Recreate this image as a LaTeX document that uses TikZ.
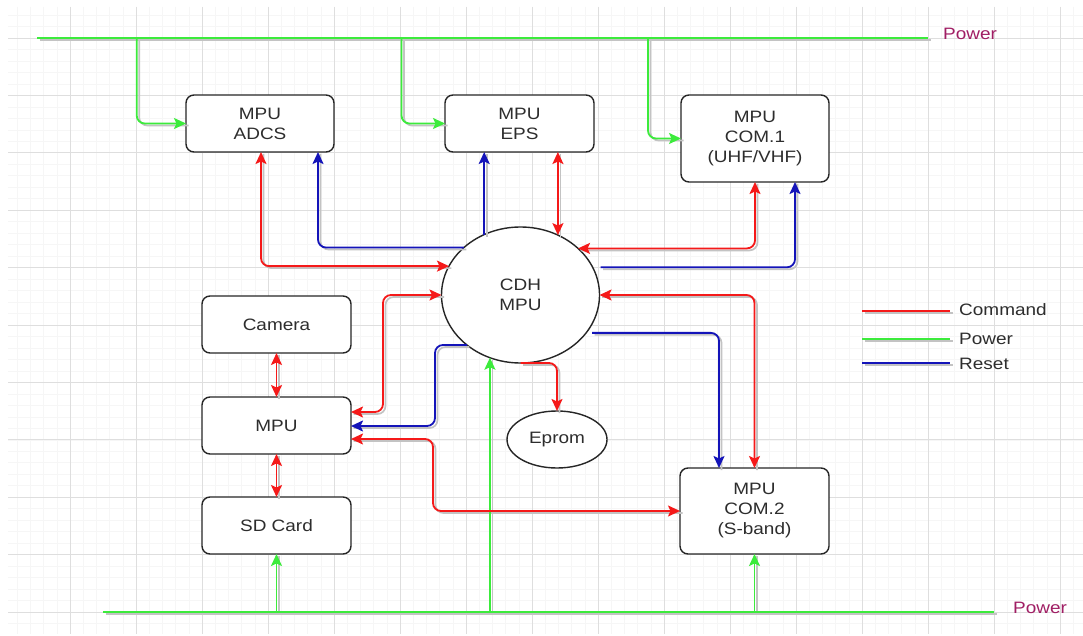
\documentclass[tikz,border=0pt]{standalone}
\usepackage{fontspec}
\setmainfont{Liberation Sans}[FakeStretch=1.15]
\usetikzlibrary{arrows.meta,shapes.geometric,calc}
\definecolor{cmdred}{RGB}{245,25,25}
\definecolor{pwrgreen}{RGB}{60,235,60}
\definecolor{rstblue}{RGB}{20,20,185}
\definecolor{txtgray}{RGB}{45,45,45}
\definecolor{pwrlabel}{RGB}{160,30,100}
\definecolor{gminor}{RGB}{246,246,246}
\definecolor{gmajor}{RGB}{222,222,222}
\definecolor{shadowgray}{RGB}{195,195,195}
\begin{document}
\begin{tikzpicture}[x=1pt,y=-1pt,
  endtip/.style={-{Stealth[length=12pt,width=11pt,inset=2.5pt]}},
  bothtips/.style={{Stealth[length=12pt,width=11pt,inset=2.5pt]}-{Stealth[length=12pt,width=11pt,inset=2.5pt]}},
  lbl/.style={font=\fontsize{16.5}{20}\selectfont, text=txtgray},
  box/.style={draw=black!85, line width=1.4pt, rounded corners=8pt, fill=white,
    inner sep=0pt, outer sep=0pt, align=center, lbl},
  oval/.style={ellipse, draw=black!85, line width=1.4pt, fill=white,
    inner sep=0pt, outer sep=0pt, align=center, lbl},
  conn/.style={line width=1.8pt, rounded corners=8pt},
  shd/.style={draw=shadowgray, line width=1.7pt, rounded corners=8pt, transform canvas={shift={(2.5pt,-2pt)}}},
  cmd/.style={conn, draw=cmdred},
  pwr/.style={conn, draw=pwrgreen},
  rst/.style={conn, draw=rstblue},
  gminorline/.style={draw=gminor, line width=0.6pt},
  gmajorline/.style={draw=gmajor, line width=0.8pt},
  pwrtext/.style={font=\fontsize{16.5}{20}\selectfont, text=pwrlabel, anchor=west, inner sep=0pt}
]
\useasboundingbox (0,0) rectangle (1083,636);
\fill[white] (0,0) rectangle (1083,636);
% grid
\begin{scope}
  \clip (8,7) rectangle (1083,634);
  \foreach \i in {0,...,82} {\draw[gminorline] ({4+13.2*\i},7) -- ({4+13.2*\i},634);}
  \foreach \j in {-3,...,52} {\draw[gminorline] (8,{38+11.48*\j}) -- (1083,{38+11.48*\j});}
  \foreach \i in {0,...,16} {\draw[gmajorline] ({4+66*\i},7) -- ({4+66*\i},634);}
  \foreach \j in {0,...,10} {\draw[gmajorline] (8,{38+57.4*\j}) -- (1083,{38+57.4*\j});}
\end{scope}

% power buses
\coordinate (busTa) at (37,38);
\coordinate (busTb) at (928,38);
\coordinate (busBa) at (103,612);
\coordinate (busBb) at (994,612);
\node[pwrtext] (pwrT) at (943,34) {Power};
\node[pwrtext] (pwrB) at (1013,608) {Power};

% nodes
\node[box, minimum width=148pt, minimum height=57pt] (adcs) at (260,123.5) {MPU\\ADCS};
\node[box, minimum width=149pt, minimum height=57pt] (eps) at (519.5,123.5) {MPU\\EPS};
\node[box, minimum width=148pt, minimum height=87pt] (com1) at (755,138.5) {MPU\\COM.1\\(UHF/VHF)};
\node[oval, minimum width=158pt, minimum height=136pt] (cdh) at (520.5,295) {CDH\\MPU};
\node[box, minimum width=149pt, minimum height=57pt] (camera) at (276.5,324.5) {Camera};
\node[box, minimum width=149pt, minimum height=57pt] (mpu) at (276.5,425.5) {MPU};
\node[box, minimum width=149pt, minimum height=57pt] (sd) at (276.5,525.5) {SD Card};
\node[oval, minimum width=100pt, minimum height=57pt] (eprom) at (557,439.5) {Eprom};
\node[box, minimum width=149pt, minimum height=86pt] (com2) at (754.5,511) {MPU\\COM.2\\(S-band)};

% connector paths (drawn twice: grey shadow, then coloured line)
\foreach \layer in {0,1}{
  \ifnum\layer=0 \tikzset{kcmd/.style={shd},kpwr/.style={shd},krst/.style={shd},ktip/.style={},kbth/.style={}}
  \else \tikzset{kcmd/.style={cmd},kpwr/.style={pwr},krst/.style={rst},ktip/.style={endtip},kbth/.style={bothtips}}\fi
  % power lines
  \draw[kpwr] (busTa) -- (busTb);
  \draw[kpwr] (busBa) -- (busBb);
  \draw[kpwr,ktip] (136.7,38) |- (adcs.west);
  \draw[kpwr,ktip] (401.5,38) |- (eps.west);
  \draw[kpwr,ktip] (648,38) |- (com1.west);
  \draw[kpwr,ktip] (sd.south |- busBa) -- (sd.south);
  \draw[kpwr,ktip] (com2.south |- busBa) -- (com2.south);
  \draw[kpwr,ktip] (cdh.244.06 |- busBa) -- (cdh.244.06);
  % top connectors
  \draw[kcmd,kbth] (adcs.south -| 261,0) |- (cdh.158.75);
  \draw[krst,ktip] (cdh.140.5) -| (adcs.south -| 318,0);
  \draw[krst,ktip] (cdh.121.8) -- (cdh.121.8 |- eps.south);
  \draw[kcmd,kbth] (eps.south -| cdh.58.8) -- (cdh.58.8);
  \draw[kcmd,kbth] (com1.south -| 755,0) |- (cdh.39.5);
  \draw[krst,ktip] ([xshift=8pt]cdh.21.25) -| (com1.south -| 795,0);
  % left connectors
  \draw[kcmd,kbth] (cdh.west) -| (383,412) -- (mpu.east |- 0,412);
  \draw[krst,ktip] (cdh.223.06) -| (435,426) -- (mpu.east |- 0,426);
  \draw[kcmd,kbth] (mpu.east |- 0,439) -| (433,511) -- (com2.west |- 0,511);
  \draw[kcmd,kbth] (camera.south) -- (mpu.north);
  \draw[kcmd,kbth] (mpu.south) -- (sd.north);
  % right connectors
  \draw[kcmd,kbth] (cdh.east) -| (com2.north);
  \draw[krst,ktip] ([xshift=6pt]cdh.330.8) -| (com2.north -| 719,0);
  \draw[kcmd,ktip] (cdh.south) -| (eprom.north);
  % legend lines
  \draw[kcmd] (862,311) -- (950,311);
  \draw[kpwr] (862,339) -- (950,339);
  \draw[krst] (862,363) -- (950,363);
}

% legend labels
\node[lbl, anchor=west, inner sep=0pt] (lgA) at (959,310) {Command};
\node[lbl, anchor=west, inner sep=0pt] (lgB) at (959,339) {Power};
\node[lbl, anchor=west, inner sep=0pt] (lgC) at (959,364) {Reset};
\end{tikzpicture}
\end{document}
